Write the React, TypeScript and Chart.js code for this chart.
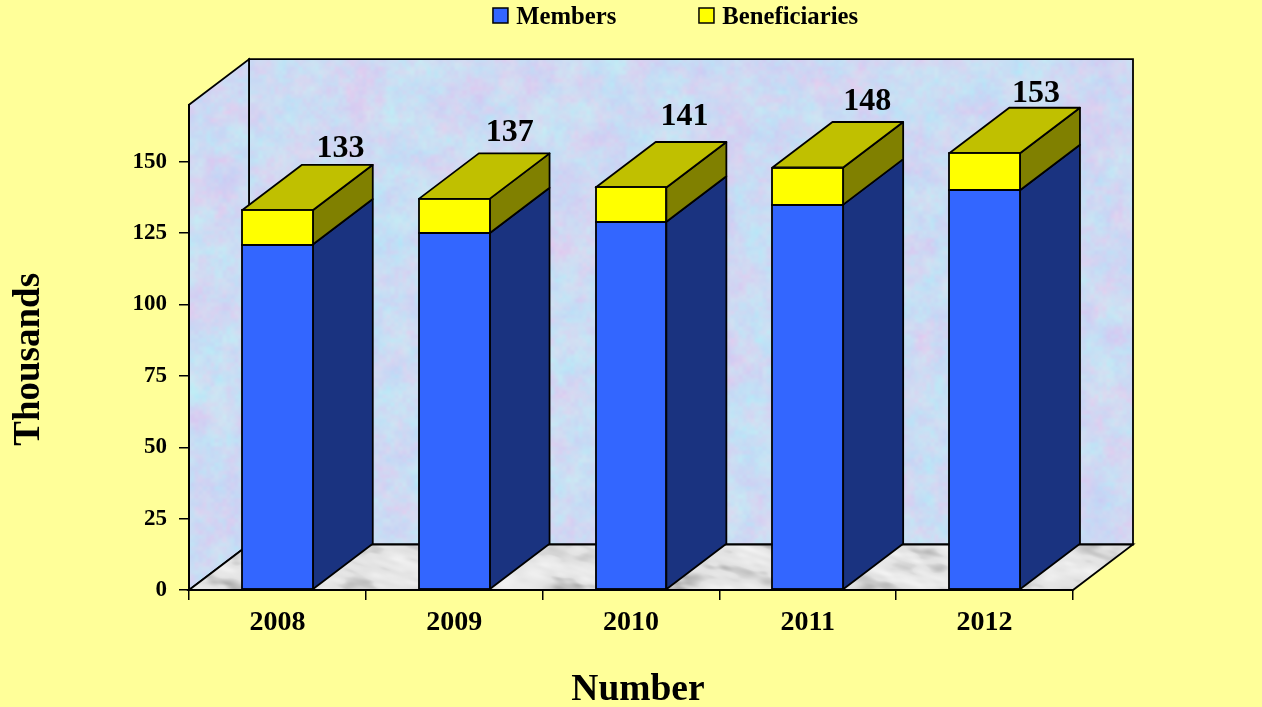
import React, { useEffect, useRef } from "react";
import { Chart, registerables } from "chart.js";

Chart.register(...registerables);

const categories = ["2008", "2009", "2010", "2011", "2012"];
const members = [121, 125, 129, 135, 140];
const beneficiaries = [12, 12, 12, 13, 13];
const totals = [133, 137, 141, 148, 153];
const labelNudgeX = [3, -4.5, -6.5, -0.5, -8.5];
const labelNudgeY = [-16, -21, -25, -20, -14];

const DEPTH_X = 60;
const DEPTH_Y = -45.5;
const FONT = "'Liberation Serif'";
const LEGEND_PAD = 82.6;

const hash = (x: number, y: number, s: number) => {
  const v = Math.sin(x * 127.1 + y * 311.7 + s * 74.7) * 43758.5453;
  return v - Math.floor(v);
};
const smooth = (t: number) => t * t * (3 - 2 * t);
const vnoise = (x: number, y: number, s: number) => {
  const xi = Math.floor(x), yi = Math.floor(y);
  const u = smooth(x - xi), v = smooth(y - yi);
  const a = hash(xi, yi, s), b = hash(xi + 1, yi, s), c = hash(xi, yi + 1, s), d = hash(xi + 1, yi + 1, s);
  return (a + (b - a) * u) * (1 - v) + (c + (d - c) * u) * v;
};

function makeTexture(w: number, h: number, shade: (x: number, y: number) => number[]) {
  const c = document.createElement("canvas");
  c.width = w;
  c.height = h;
  const g = c.getContext("2d")!;
  const img = g.createImageData(w, h);
  for (let y = 0; y < h; y++) {
    for (let x = 0; x < w; x++) {
      const [r, gg, b] = shade(x, y);
      const i = (y * w + x) * 4;
      img.data[i] = r;
      img.data[i + 1] = gg;
      img.data[i + 2] = b;
      img.data[i + 3] = 255;
    }
  }
  g.putImageData(img, 0, 0);
  return c;
}

const wallShade = (x: number, y: number) => {
  const a = vnoise(x / 22, y / 22, 1) * 0.4 + vnoise(x / 9, y / 9, 2) * 0.35 + vnoise(x / 4, y / 4, 7) * 0.25;
  const b = vnoise(x / 28, y / 28, 3) * 0.4 + vnoise(x / 10, y / 10, 4) * 0.35 + vnoise(x / 4, y / 4, 8) * 0.25;
  const blue = (a - 0.5) * 2.2;
  const pink = (b - 0.5) * 2.2;
  return [
    204 - blue * 14 + pink * 16,
    218 - blue * 2 - pink * 18,
    243 + blue * 3 - pink * 3,
  ];
};

const marbleShade = (x: number, y: number) => {
  const u = (x + y * 1.3) / 40;
  const v = (y - x * 0.35) / 12;
  const n = vnoise(u, v, 5) * 0.65 + vnoise(u * 2.6, v * 2.6, 6) * 0.35;
  const k = 226 - Math.max(0, n - 0.52) * 130 + (0.52 - Math.min(n, 0.52)) * 36;
  return [k, k, k];
};

const polyOn = (ctx: any) => (pts: number[][], fill: any) => {
  ctx.beginPath();
  pts.forEach(([x, y], i) => (i ? ctx.lineTo(x, y) : ctx.moveTo(x, y)));
  ctx.closePath();
  ctx.fillStyle = fill;
  ctx.fill();
  ctx.stroke();
};

const nudgeTitle = (s: any, dx: number, dy: number) => {
  if (s.__nudged) return;
  s.__nudged = true;
  const base = s.drawTitle;
  s.drawTitle = function () {
    const c = this.ctx;
    c.save();
    c.translate(dx, dy);
    base.call(this);
    c.restore();
  };
};

const scene = {
  id: "scene3d",
  afterLayout(chart: any) {
    const lg = chart.legend;
    lg.left = 0;
    lg.right = 1351;
    lg.top = -74 - (LEGEND_PAD - 79);
    lg.adjustHitBoxes();
  },
  beforeDraw(chart: any) {
    const { ctx, chartArea: a } = chart;
    const L = a.left, R = a.right, T = a.top, B = a.bottom;
    const wall = ctx.createPattern(makeTexture(1262, 600, wallShade), "no-repeat");
    const marble = ctx.createPattern(makeTexture(1262, 600, marbleShade), "no-repeat");
    ctx.save();
    ctx.fillStyle = "#FFFF99";
    ctx.fillRect(0, 0, chart.width, chart.height);
    ctx.lineWidth = 1.8;
    ctx.strokeStyle = "#000";
    const poly = polyOn(ctx);
    poly(
      [[L + DEPTH_X, T + DEPTH_Y], [R + DEPTH_X, T + DEPTH_Y], [R + DEPTH_X, B + DEPTH_Y], [L + DEPTH_X, B + DEPTH_Y]],
      wall
    );
    poly([[L, T], [L + DEPTH_X, T + DEPTH_Y], [L + DEPTH_X, B + DEPTH_Y], [L, B]], wall);
    poly([[L, B], [L + DEPTH_X, B + DEPTH_Y], [R + DEPTH_X, B + DEPTH_Y], [R, B]], marble);
    ctx.restore();
  },
  beforeDatasetsDraw(chart: any) {
    const { ctx } = chart;
    const sideColors = ["#1A3380", "#808000"];
    ctx.save();
    ctx.lineWidth = 1.8;
    ctx.strokeStyle = "#000";
    ctx.lineJoin = "round";
    const poly = polyOn(ctx);
    chart.data.datasets.forEach((_: any, d: number) => {
      chart.getDatasetMeta(d).data.forEach((bar: any) => {
        const r = bar.x + bar.width / 2;
        poly(
          [[r, bar.base], [r + DEPTH_X, bar.base + DEPTH_Y], [r + DEPTH_X, bar.y + DEPTH_Y], [r, bar.y]],
          sideColors[d]
        );
        if (d === chart.data.datasets.length - 1) {
          const l = bar.x - bar.width / 2;
          poly(
            [[l, bar.y], [r, bar.y], [r + DEPTH_X, bar.y + DEPTH_Y], [l + DEPTH_X, bar.y + DEPTH_Y]],
            "#C0C000"
          );
        }
      });
    });
    ctx.restore();
  },
  afterDatasetsDraw(chart: any) {
    const { ctx } = chart;
    const n = chart.data.datasets.length;
    ctx.save();
    ctx.lineWidth = 1.8;
    ctx.strokeStyle = "#000";
    for (let d = 0; d < n; d++) {
      chart.getDatasetMeta(d).data.forEach((bar: any) => {
        const l = Math.round(bar.x - bar.width / 2);
        const r = Math.round(bar.x + bar.width / 2);
        const t = Math.round(bar.y);
        const b = Math.round(bar.base);
        ctx.strokeRect(l, t, r - l, b - t);
      });
    }
    const last = chart.getDatasetMeta(n - 1).data;
    ctx.font = `bold 32px ${FONT}`;
    ctx.fillStyle = "#000";
    ctx.textAlign = "center";
    ctx.textBaseline = "middle";
    last.forEach((bar: any, i: number) => {
      ctx.fillText(
        String(totals[i]),
        bar.x + DEPTH_X + labelNudgeX[i],
        bar.y + DEPTH_Y + labelNudgeY[i]
      );
    });
    ctx.restore();
  },
  afterDraw(chart: any) {
    const { ctx, legend } = chart;
    ctx.save();
    ctx.lineWidth = 1.5;
    ctx.strokeStyle = "#000";
    legend.legendHitBoxes.forEach((h: any, i: number) => {
      const top = Math.round(legend.top + LEGEND_PAD + (h.height - 15) / 2 - 1.5);
      ctx.fillStyle = chart.data.datasets[i].backgroundColor;
      ctx.fillRect(h.left, top, 15, 15);
      ctx.strokeRect(h.left, top, 15, 15);
    });
    ctx.restore();
  },
};

export default function App() {
  const ref = useRef<HTMLCanvasElement>(null);
  useEffect(() => {
    const chart = new Chart(ref.current!, {
      type: "bar",
      data: {
        labels: categories,
        datasets: [
          { label: "Members", data: members, backgroundColor: "#3366FF", borderColor: "#000", borderWidth: 0 },
          { label: "Beneficiaries", data: beneficiaries, backgroundColor: "#FFFF00", borderColor: "#000", borderWidth: 0 },
        ],
      },
      options: {
        responsive: false,
        animation: false,
        layout: { padding: { top: 104 - 34 - LEGEND_PAD, left: 0, right: 189, bottom: 0 } },
        datasets: { bar: { barPercentage: 0.4, categoryPercentage: 1 } },
        plugins: {
          tooltip: { enabled: false },
          legend: {
            position: "top",
            labels: {
              color: "#000",
              boxWidth: 11,
              boxHeight: 11,
              padding: LEGEND_PAD,
              font: { family: FONT, size: 24.7, weight: "bold" },
            },
          },
        },
        scales: {
          x: {
            stacked: true,
            afterFit: (s: any) => { s.height = 117; nudgeTitle(s, 7, 6); },
            grid: { drawOnChartArea: false, drawTicks: true, tickLength: 10, color: "#000", lineWidth: 1.5 },
            border: { color: "#000", width: 2 },
            ticks: { color: "#000", padding: 6, maxRotation: 0, font: { family: FONT, size: 28, weight: "bold" } },
            title: { display: true, text: "Number", color: "#000", padding: { top: 0, bottom: 0 }, font: { family: FONT, size: 37.5, weight: "bold" } },
          },
          y: {
            stacked: true,
            min: 0,
            max: 170,
            afterFit: (s: any) => { s.width = 189; nudgeTitle(s, 1, 12); },
            grid: { drawOnChartArea: false, drawTicks: true, tickLength: 10, color: "#000", lineWidth: 1.5 },
            border: { color: "#000", width: 2 },
            ticks: { color: "#000", stepSize: 25, includeBounds: false, padding: 12, font: { family: FONT, size: 23, weight: "bold" } },
            title: { display: true, text: "Thousands", color: "#000", padding: { top: 6, bottom: 0 }, font: { family: FONT, size: 37, weight: "bold" } },
          },
        },
      } as any,
      plugins: [scene],
    });
    return () => chart.destroy();
  }, []);
  return (
    <canvas
      ref={ref}
      width={1262}
      height={707}
      style={{ position: "fixed", left: 0, top: 0, display: "block", width: 1262, height: 707 }}
    />
  );
}
